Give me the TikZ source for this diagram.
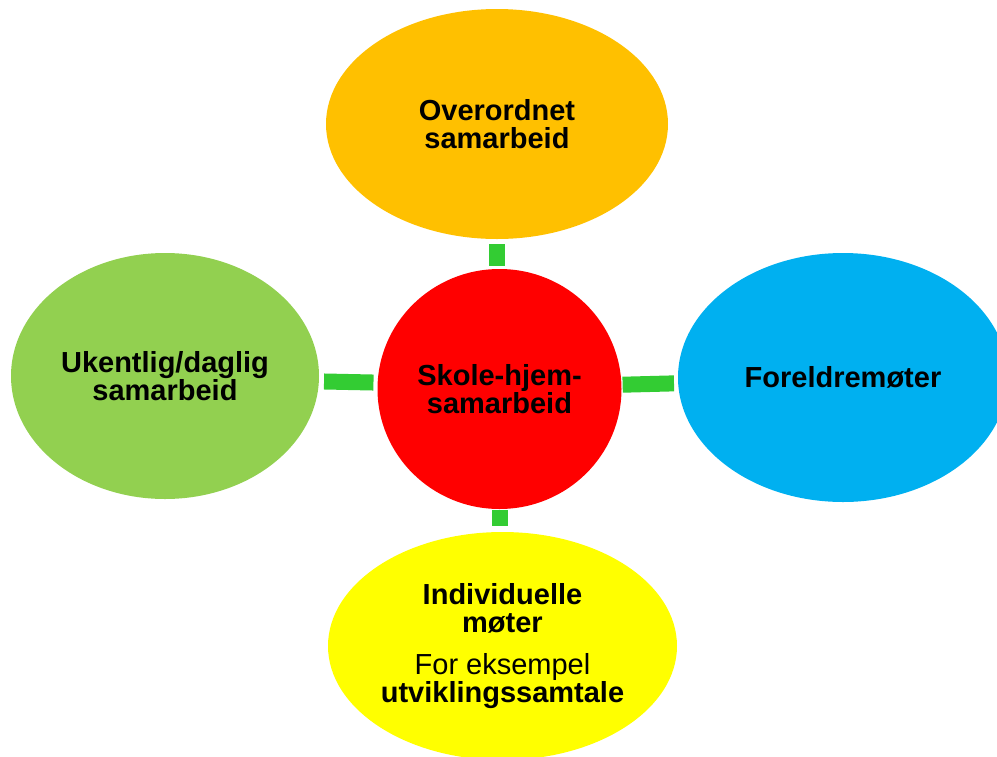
\documentclass[tikz,border=0pt]{standalone}
\usepackage{fontspec}
\setmainfont{Liberation Sans}
\usetikzlibrary{shapes.geometric}
\definecolor{cOrange}{HTML}{FFC000}
\definecolor{cRed}{HTML}{FF0000}
\definecolor{cGreen}{HTML}{92D050}
\definecolor{cBlue}{HTML}{00B0F0}
\definecolor{cYellow}{HTML}{FFFF00}
\definecolor{cConn}{HTML}{33CC33}
\begin{document}
\begin{tikzpicture}[x=1pt,y=-1pt,
  bubble/.style={ellipse,inner sep=0pt,align=center,
    font=\fontsize{29}{28}\selectfont\bfseries},
  conn/.style={draw=cConn,line width=16pt,line cap=butt}]
\useasboundingbox (0,0) rectangle (997,756);
\node[bubble,fill=cOrange,minimum width=342pt,minimum height=230pt] (T) at (497,124) {Overordnet\\samarbeid};
\node[bubble,fill=cRed,minimum width=244pt,minimum height=240pt] (C) at (499.5,389) {Skole-hjem-\\samarbeid};
\node[bubble,fill=cGreen,minimum width=308pt,minimum height=246pt] (L) at (165,376) {Ukentlig/daglig\\samarbeid};
\node[bubble,fill=cBlue,minimum width=330pt,minimum height=249pt] (R) at (843,377.5) {Foreldremøter};
\node[bubble,fill=cYellow,minimum width=349pt,minimum height=228pt] (B) at (502.5,646) {Individuelle\\møter\\[14pt]\mdseries For eksempel\\utviklingssamtale};
\draw[conn,shorten <=5pt,shorten >=3pt] (T.south) -- (T.south |- C.north);
\draw[conn,shorten <=1pt,shorten >=6pt] (C.south) -- (C.south |- B.north);
\draw[conn,shorten <=5pt,shorten >=4pt] (L.-2) -- (C.177.4);
\draw[conn,shorten <=1pt,shorten >=4pt] (C.2.3) -- (R.-178.4);
\end{tikzpicture}
\end{document}
